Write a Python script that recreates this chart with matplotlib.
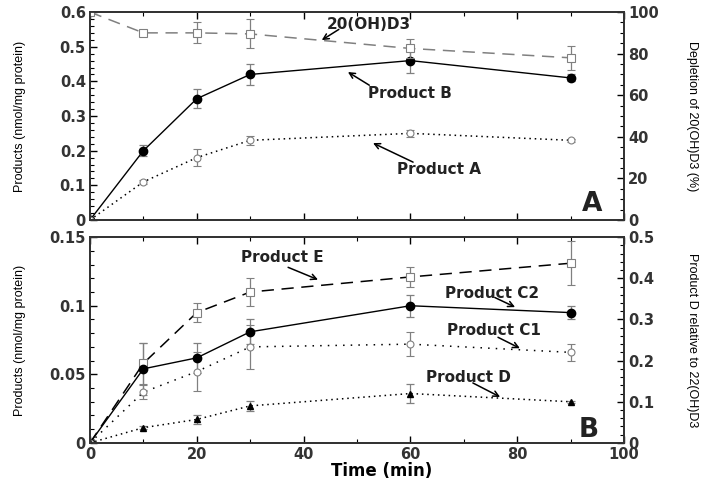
import matplotlib.pyplot as plt
from matplotlib.ticker import MultipleLocator

# time points (min)
time = [0, 10, 20, 30, 60, 90]

# panel A, left axis (nmol/mg protein)
prod_b = [0, 0.20, 0.35, 0.42, 0.46, 0.41]
prod_b_err = [0, 0.015, 0.027, 0.030, 0.036, 0.010]
prod_a = [0, 0.11, 0.18, 0.23, 0.25, 0.23]
prod_a_err = [0, 0.006, 0.025, 0.013, 0.010, 0.005]
# panel A, right axis (% depletion)
oh20 = [100, 90, 90, 89.5, 82.5, 78]
oh20_err = [0, 0, 5, 7, 4.5, 5.8]

# panel B, left axis
prod_e = [0, 0.058, 0.095, 0.110, 0.121, 0.131]
prod_e_err = [0, 0.015, 0.007, 0.010, 0.007, 0.016]
prod_c2 = [0, 0.054, 0.062, 0.081, 0.100, 0.095]
prod_c2_err = [0, 0.019, 0.011, 0.009, 0.008, 0.005]
prod_c1 = [0, 0.037, 0.052, 0.070, 0.072, 0.066]
prod_c1_err = [0, 0.005, 0.014, 0.016, 0.009, 0.006]
# panel B, right axis (relative to 22(OH)D3)
prod_d = [0, 0.037, 0.057, 0.090, 0.120, 0.100]
prod_d_err = [0, 0.003, 0.010, 0.013, 0.023, 0.003]

labfont = 'Liberation Sans'
tickfont = 'DejaVu Sans'

fig = plt.figure(figsize=(7.14, 4.83), dpi=100)
axA = fig.add_axes([0.126, 0.5445, 0.748, 0.4305])
axB = fig.add_axes([0.126, 0.083, 0.748, 0.426])
axA2 = axA.twinx()
axB2 = axB.twinx()

grey = '#808080'
ekw = dict(ecolor=grey, elinewidth=0.9, capsize=3, capthick=0.9)

# --- panel A
axA.errorbar(time, prod_b, yerr=prod_b_err, color='black', lw=1.0, marker='o',
             ms=6, mfc='black', mec='black', **ekw)
axA.errorbar(time, prod_a, yerr=prod_a_err, color='black', lw=1.1, ls=(0, (1, 2.5)),
             marker='o', ms=5, mfc='white', mec=grey, mew=0.8, **ekw)
axA2.errorbar(time, oh20, yerr=oh20_err, color=grey, lw=1.1, ls=(0, (8, 5)),
              marker='s', ms=6, mfc='white', mec=grey, mew=0.8, **ekw)

# --- panel B
axB.errorbar(time, prod_e, yerr=prod_e_err, color='black', lw=1.1, ls=(0, (8, 5)),
             marker='s', ms=6, mfc='white', mec=grey, mew=0.8, **ekw)
axB.errorbar(time, prod_c2, yerr=prod_c2_err, color='black', lw=1.0, marker='o',
             ms=6, mfc='black', mec='black', **ekw)
axB.errorbar(time, prod_c1, yerr=prod_c1_err, color='black', lw=1.1, ls=(0, (1, 4)),
             marker='o', ms=5, mfc='white', mec=grey, mew=0.8, **ekw)
axB2.errorbar(time, prod_d, yerr=prod_d_err, color='black', lw=1.1, ls=(0, (1, 2.5)),
              marker='^', ms=5, mfc='black', mec='black', **ekw)

for ax in (axA, axB):
    ax.set_xlim(0, 100)
    ax.xaxis.set_major_locator(MultipleLocator(20))
    ax.xaxis.set_minor_locator(MultipleLocator(10))
    ax.tick_params(which='both', direction='in', top=True)
axA.tick_params(labelbottom=False)

axA.set_ylim(0, 0.6)
axA.yaxis.set_major_locator(MultipleLocator(0.1))
axA.yaxis.set_minor_locator(MultipleLocator(0.02))
axA2.set_ylim(0, 100)
axA2.yaxis.set_major_locator(MultipleLocator(20))
axA2.yaxis.set_minor_locator(MultipleLocator(5))
axB.set_ylim(0, 0.15)
axB.yaxis.set_major_locator(MultipleLocator(0.05))
axB.yaxis.set_minor_locator(MultipleLocator(0.01))
axB2.set_ylim(0, 0.5)
axB2.yaxis.set_major_locator(MultipleLocator(0.1))
axB2.yaxis.set_minor_locator(MultipleLocator(0.02))

fmt = lambda v, p: ('%g' % v)
for ax in (axA, axB, axA2, axB2):
    ax.yaxis.set_major_formatter(plt.FuncFormatter(fmt))
    ax.tick_params(which='major', length=5, width=1, pad=3)
    ax.tick_params(which='minor', length=3, width=0.8)
    ax.tick_params(which='both', direction='in')
    for s in ax.spines.values():
        s.set_linewidth(1.3)
        s.set_color('#333333')
    for lab in ax.get_xticklabels() + ax.get_yticklabels():
        lab.set_fontfamily(tickfont)
        lab.set_fontweight('bold')
        lab.set_fontsize(10.5)
        lab.set_color('#333333')
axB.xaxis.set_major_formatter(plt.FuncFormatter(fmt))

axA.set_ylabel('Products (nmol/mg protein)', family=labfont, fontsize=9, va='center')
axB.set_ylabel('Products (nmol/mg protein)', family=labfont, fontsize=9, va='center')
axA.yaxis.set_label_coords(-0.131, 0.5)
axB.yaxis.set_label_coords(-0.131, 0.5)
axA2.set_ylabel('Depletion of 20(OH)D3 (%)', family=labfont, fontsize=9,
                rotation=270, va='center')
axB2.set_ylabel('Product D relative to 22(OH)D3', family=labfont, fontsize=9,
                rotation=270, va='center')
axA2.yaxis.set_label_coords(1.127, 0.5)
axB2.yaxis.set_label_coords(1.127, 0.5)
axB.set_xlabel('Time (min)', family=tickfont, fontweight='bold', fontsize=12)
axB.xaxis.set_label_coords(0.547, -0.092)

arrow = dict(arrowstyle='->', color='black', lw=1.1, shrinkA=0, shrinkB=0)
tkw = dict(family=tickfont, fontweight='bold', fontsize=11, color='#222222')

axA.annotate('', xy=(43.4, 0.519), xytext=(46.6, 0.55), arrowprops=arrow)
axA.text(44.4, 0.565, '20(OH)D3', ha='left', va='center', **tkw)
axA.annotate('', xy=(48.3, 0.427), xytext=(52.3, 0.389), arrowprops=arrow)
axA.text(59.9, 0.366, 'Product B', ha='center', va='center', **tkw)
axA.annotate('', xy=(53.0, 0.222), xytext=(60.5, 0.167), arrowprops=arrow)
axA.text(65.4, 0.147, 'Product A', ha='center', va='center', **tkw)
axA.text(94.0, 0.046, 'A', ha='center', va='center', family=tickfont,
         fontweight='bold', fontsize=19, color='#222222')

axB.annotate('', xy=(42.7, 0.119), xytext=(37.1, 0.128), arrowprops=arrow)
axB.text(36.0, 0.1354, 'Product E', ha='center', va='center', **tkw)
axB.annotate('', xy=(79.6, 0.099), xytext=(75.8, 0.106), arrowprops=arrow)
axB.text(75.3, 0.109, 'Product C2', ha='center', va='center', **tkw)
axB.annotate('', xy=(80.5, 0.069), xytext=(76.4, 0.077), arrowprops=arrow)
axB.text(75.7, 0.0816, 'Product C1', ha='center', va='center', **tkw)
axB.annotate('', xy=(76.8, 0.0335), xytext=(71.7, 0.0437), arrowprops=arrow)
axB.text(70.8, 0.048, 'Product D', ha='center', va='center', **tkw)
axB.text(93.3, 0.0095, 'B', ha='center', va='center', family=tickfont,
         fontweight='bold', fontsize=19, color='#222222')

fig.savefig('out.png', dpi=100)
